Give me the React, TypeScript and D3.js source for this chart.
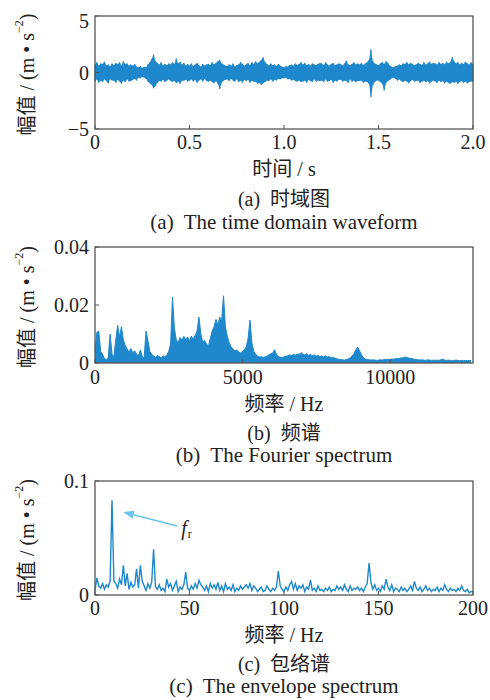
import React from 'react';
import * as d3 from 'd3';

// ---- (a) time-domain waveform: upper / lower envelope per 0.01 s (m·s^-2)
const timeStep = 0.01;
const timeUpper = [
  0.7, 0.9, 0.6, 0.8, 0.75, 0.95, 0.6, 0.7, 0.55, 0.8,
  0.65, 0.85, 0.7, 0.9, 0.6, 1.0, 0.75, 0.8, 0.6, 0.7,
  0.6, 0.75, 0.5, 0.45, 0.55, 0.4, 0.5, 0.45, 0.7, 0.9,
  1.2, 1.6, 1.0, 0.85, 0.7, 0.9, 0.6, 0.75, 0.65, 0.8,
  0.7, 0.9, 0.75, 1.25, 0.8, 0.95, 0.7, 0.85, 0.6, 0.75,
  0.6, 0.8, 0.55, 0.7, 0.85, 0.65, 0.5, 0.75, 0.6, 0.7,
  0.75, 0.65, 0.9, 0.7, 0.85, 1.0, 1.1, 0.8, 0.7, 0.6,
  0.55, 0.7, 0.6, 0.8, 0.5, 0.65, 0.7, 0.9, 0.75, 0.6,
  0.7, 0.85, 0.65, 0.9, 0.75, 1.0, 0.8, 0.95, 1.1, 1.35,
  0.9, 0.75, 0.6, 0.8, 0.65, 0.7, 0.55, 0.75, 0.6, 0.5,
  0.45, 0.55, 0.5, 0.65, 0.7, 0.6, 0.8, 0.65, 0.75, 0.9,
  0.7, 0.85, 0.65, 0.75, 0.6, 0.8, 0.7, 0.65, 0.75, 0.85,
  0.8, 0.65, 0.9, 0.7, 0.6, 0.75, 0.85, 0.65, 0.7, 0.8,
  0.75, 0.6, 0.8, 1.05, 0.7, 0.65, 0.75, 0.9, 0.7, 0.8,
  0.7, 0.85, 0.65, 0.8, 0.9, 1.1, 2.05, 1.0, 0.8, 0.7,
  0.65, 0.8, 0.9, 0.75, 1.0, 0.85, 0.6, 0.5, 0.45, 0.55,
  0.6, 0.7, 0.65, 0.8, 0.75, 0.9, 0.7, 0.85, 0.75, 0.65,
  0.7, 0.85, 0.75, 0.65, 0.9, 0.7, 0.8, 0.95, 0.75, 0.85,
  0.8, 0.7, 0.9, 0.75, 0.85, 0.7, 0.95, 0.8, 0.9, 1.35,
  1.0, 0.8, 0.9, 0.7, 0.85, 0.75, 0.95, 0.8, 0.7, 0.9,
  0.75,
];
const timeLower = [
  -0.8, -0.6, -0.9, -0.7, -0.85, -0.6, -0.75, -0.95, -0.6, -0.7,
  -0.7, -0.9, -0.65, -0.8, -1.0, -0.7, -0.85, -0.6, -0.8, -0.75,
  -0.65, -0.55, -0.7, -0.45, -0.5, -0.4, -0.45, -0.55, -0.8, -0.95,
  -1.1, -1.4, -1.2, -0.9, -0.75, -0.8, -0.65, -0.85, -0.7, -0.6,
  -0.75, -0.85, -0.7, -0.95, -0.8, -1.0, -0.75, -0.7, -0.65, -0.8,
  -0.7, -0.6, -0.8, -0.65, -0.9, -0.7, -0.6, -0.8, -0.55, -0.75,
  -0.8, -0.7, -0.85, -0.95, -0.75, -1.0, -1.45, -0.9, -0.7, -0.65,
  -0.6, -0.75, -0.55, -0.7, -0.8, -0.6, -0.85, -0.7, -0.9, -0.65,
  -0.75, -0.65, -0.9, -0.7, -0.85, -0.8, -1.0, -0.9, -1.1, -0.95,
  -0.85, -0.7, -0.75, -0.6, -0.8, -0.65, -0.7, -0.55, -0.6, -0.5,
  -0.5, -0.45, -0.6, -0.55, -0.7, -0.65, -0.75, -0.8, -0.7, -0.85,
  -0.8, -0.7, -0.9, -0.65, -0.75, -0.85, -0.6, -0.8, -0.7, -0.75,
  -0.7, -0.85, -0.6, -0.8, -0.75, -0.65, -0.9, -0.7, -0.8, -0.65,
  -0.65, -0.8, -0.7, -0.75, -0.9, -0.6, -0.8, -0.7, -0.85, -0.75,
  -0.75, -0.7, -0.9, -0.8, -0.85, -1.0, -2.2, -1.1, -0.85, -0.7,
  -0.7, -0.85, -1.0, -1.6, -0.9, -0.75, -0.65, -0.5, -0.45, -0.55,
  -0.7, -0.6, -0.75, -0.85, -0.7, -0.8, -0.95, -0.75, -0.65, -0.8,
  -0.75, -0.7, -0.9, -0.8, -0.7, -0.85, -0.75, -0.95, -0.8, -0.7,
  -0.8, -0.9, -0.7, -0.85, -0.75, -0.95, -0.8, -0.9, -1.0, -0.85,
  -0.9, -0.8, -1.0, -0.85, -0.75, -0.9, -0.8, -0.95, -0.85, -0.8,
  -0.8,
];

// ---- (b) Fourier spectrum: amplitude per 64 Hz bin (m·s^-2)
const fftStep = 64;
const fftAmp = [
  0.0040, 0.0106, 0.0110, 0.0040, 0.0030, 0.0015, 0.0012, 0.0018, 0.0100, 0.0030,
  0.0022, 0.0080, 0.0130, 0.0090, 0.0125, 0.0080, 0.0060, 0.0048, 0.0038, 0.0050,
  0.0035, 0.0042, 0.0030, 0.0026, 0.0045, 0.0022, 0.0018, 0.0110, 0.0078, 0.0040,
  0.0030, 0.0024, 0.0020, 0.0026, 0.0022, 0.0018, 0.0025, 0.0021, 0.0028, 0.0040,
  0.0065, 0.0228, 0.0120, 0.0080, 0.0070, 0.0088, 0.0078, 0.0092, 0.0080, 0.0090,
  0.0076, 0.0093, 0.0082, 0.0095, 0.0110, 0.0158, 0.0100, 0.0072, 0.0078, 0.0066,
  0.0058, 0.0085, 0.0110, 0.0125, 0.0150, 0.0132, 0.0158, 0.0145, 0.0232, 0.0125,
  0.0092, 0.0070, 0.0055, 0.0048, 0.0042, 0.0045, 0.0038, 0.0035, 0.0040, 0.0045,
  0.0055, 0.0085, 0.0148, 0.0070, 0.0040, 0.0030, 0.0024, 0.0020, 0.0022, 0.0019,
  0.0021, 0.0024, 0.0028, 0.0032, 0.0034, 0.0046, 0.0030, 0.0022, 0.0020, 0.0019,
  0.0021, 0.0023, 0.0025, 0.0028, 0.0026, 0.0030, 0.0027, 0.0031, 0.0029, 0.0036,
  0.0030, 0.0028, 0.0032, 0.0027, 0.0029, 0.0025, 0.0028, 0.0024, 0.0026, 0.0022,
  0.0024, 0.0021, 0.0025, 0.0020, 0.0022, 0.0018, 0.0020, 0.0016, 0.0014, 0.0013,
  0.0012, 0.0011, 0.0010, 0.0012, 0.0014, 0.0018, 0.0024, 0.0032, 0.0045, 0.0055,
  0.0042, 0.0028, 0.0018, 0.0014, 0.0012, 0.0011, 0.0010, 0.0011, 0.0010, 0.0009,
  0.0010, 0.0011, 0.0010, 0.0012, 0.0011, 0.0013, 0.0012, 0.0014, 0.0013, 0.0015,
  0.0016, 0.0015, 0.0018, 0.0017, 0.0021, 0.0019, 0.0017, 0.0016, 0.0015, 0.0013,
  0.0012, 0.0011, 0.0010, 0.0011, 0.0010, 0.0009, 0.0011, 0.0010, 0.0009, 0.0010,
  0.0009, 0.0010, 0.0009, 0.0011, 0.0013, 0.0010, 0.0009, 0.0010, 0.0009, 0.0008,
  0.0009, 0.0010, 0.0009, 0.0008, 0.0009, 0.0008, 0.0009, 0.0008, 0.0009, 0.0008,
];

// ---- (c) envelope spectrum: amplitude per 1 Hz (m·s^-2)
const envStep = 1;
const envAmp = [
  0.004, 0.015, 0.008, 0.006, 0.010, 0.005, 0.009, 0.007, 0.012, 0.083,
  0.012, 0.010, 0.006, 0.014, 0.009, 0.026, 0.008, 0.019, 0.005, 0.011,
  0.007, 0.009, 0.023, 0.006, 0.026, 0.012, 0.008, 0.004, 0.010, 0.006,
  0.011, 0.040, 0.007, 0.005, 0.009, 0.004, 0.006, 0.003, 0.014, 0.007,
  0.010, 0.004, 0.008, 0.012, 0.003, 0.007, 0.005, 0.009, 0.020, 0.006,
  0.004, 0.008, 0.005, 0.010, 0.006, 0.013, 0.009, 0.007, 0.004, 0.008,
  0.003, 0.010, 0.006, 0.009, 0.005, 0.011, 0.004, 0.008, 0.003, 0.010,
  0.005, 0.007, 0.004, 0.009, 0.003, 0.006, 0.004, 0.008, 0.005, 0.007,
  0.009, 0.006, 0.010, 0.004, 0.008, 0.006, 0.003, 0.005, 0.007, 0.003,
  0.004, 0.008, 0.005, 0.003, 0.006, 0.004, 0.007, 0.021, 0.008, 0.005,
  0.003, 0.007, 0.004, 0.009, 0.012, 0.005, 0.010, 0.004, 0.008, 0.006,
  0.009, 0.003, 0.007, 0.005, 0.013, 0.004, 0.006, 0.003, 0.008, 0.004,
  0.005, 0.003, 0.006, 0.004, 0.007, 0.003, 0.005, 0.004, 0.008, 0.005,
  0.007, 0.004, 0.009, 0.005, 0.003, 0.008, 0.004, 0.006, 0.005, 0.007,
  0.004, 0.006, 0.003, 0.007, 0.010, 0.028, 0.011, 0.005, 0.009, 0.004,
  0.006, 0.003, 0.008, 0.005, 0.014, 0.007, 0.004, 0.009, 0.003, 0.006,
  0.005, 0.003, 0.007, 0.004, 0.006, 0.003, 0.005, 0.008, 0.004, 0.012,
  0.006, 0.004, 0.007, 0.003, 0.005, 0.008, 0.004, 0.006, 0.003, 0.005,
  0.004, 0.007, 0.003, 0.006, 0.004, 0.009, 0.005, 0.003, 0.006, 0.004,
  0.005, 0.003, 0.006, 0.004, 0.008, 0.004, 0.003, 0.005, 0.002, 0.003,
  0.003,
];

// ---- tick values and labels
const timeXTicks = [0, 0.5, 1.0, 1.5, 2.0];
const timeXLabels = ['0', '0.5', '1.0', '1.5', '2.0'];
const timeYTicks = [5, 0, -5];
const timeYLabels = ['5', '0', '\u22125'];

const fftXTicks = [0, 5000, 10000];
const fftXLabels = ['0', '5000', '10000'];
const fftYTicks = [0.04, 0.02, 0];
const fftYLabels = ['0.04', '0.02', '0'];

const envXTicks = [0, 50, 100, 150, 200];
const envXLabels = ['0', '50', '100', '150', '200'];
const envYTicks = [0.1, 0];
const envYLabels = ['0.1', '0'];

// rotation-frequency marker on the envelope spectrum (Hz, amplitude)
const frArrowTip = [14.8, 0.0728];
const frArrowTail = [43.4, 0.0605];
const frLabelAt = [45.6, 0.0525];

const FONT = "'Liberation Serif', 'Times New Roman', 'Noto Sans CJK SC', serif";
const BLUE = '#1f88cc';
const TEXT = '#222';
const FRAME = '#555';
const LEFT = 95;
const RIGHT = 473;

type PanelProps = {
  top: number;
  bottom: number;
  x: d3.ScaleLinear<number, number>;
  y: d3.ScaleLinear<number, number>;
  xTicks: number[];
  xLabels: string[];
  yTicks: number[];
  yLabels: string[];
  tickBase: number;
  xTitle: string;
  titleBase: number;
  capZh: string;
  zhBase: number;
  capEn: string;
  enBase: number;
  children?: React.ReactNode;
};

function Panel(p: PanelProps) {
  const cx = (LEFT + RIGHT) / 2;
  const cy = (p.top + p.bottom) / 2;
  return (
    <g>
      {p.children}
      <rect x={LEFT} y={p.top} width={RIGHT - LEFT} height={p.bottom - p.top}
        fill="none" stroke={FRAME} strokeWidth={1.3} />
      {p.xTicks.map((t, i) => (
        <g key={'xt' + i}>
          <line x1={p.x(t)} x2={p.x(t)} y1={p.bottom} y2={p.bottom - 4} stroke={FRAME} strokeWidth={1} />
          <text x={p.x(t)} y={p.tickBase} textAnchor="middle" fontSize={20} fill={TEXT}>{p.xLabels[i]}</text>
        </g>
      ))}
      {p.yTicks.map((t, i) => (
        <g key={'yt' + i}>
          <line x1={LEFT} x2={LEFT + 4} y1={p.y(t)} y2={p.y(t)} stroke={FRAME} strokeWidth={1} />
          <text x={89} y={Math.max(p.y(t), 21)} textAnchor="end" dominantBaseline="central"
            fontSize={20} fill={TEXT}>{p.yLabels[i]}</text>
        </g>
      ))}
      <text transform={`translate(27, ${cy + 2}) rotate(-90)`} textAnchor="middle"
        dominantBaseline="central" fontSize={20} fill={TEXT}>
        幅值 / (m • s<tspan dy={-8} fontSize={12}>−2</tspan><tspan dy={8}>)</tspan>
      </text>
      <text x={cx} y={p.titleBase} textAnchor="middle" fontSize={20} fill={TEXT}>{p.xTitle}</text>
      <text x={cx} y={p.zhBase} textAnchor="middle" fontSize={20} fill={TEXT} xmlSpace="preserve">{p.capZh}</text>
      <text x={cx} y={p.enBase} textAnchor="middle" fontSize={21} fill={TEXT} xmlSpace="preserve">{p.capEn}</text>
    </g>
  );
}

export default function App() {
  // (a)
  const xA = d3.scaleLinear().domain([0, 2]).range([LEFT, RIGHT]);
  const yA = d3.scaleLinear().domain([-5, 5]).range([129, 16]);
  const bandA = d3.area<number>()
    .x((_, i) => xA(i * timeStep))
    .y0((_, i) => yA(timeLower[i]))
    .y1((d) => yA(d))(timeUpper) as string;
  const strokesA = timeUpper
    .map((u, i) => `M${xA(i * timeStep)},${yA(u)}L${xA(i * timeStep)},${yA(timeLower[i])}`)
    .join('');

  // (b)
  const xB = d3.scaleLinear().domain([0, 12800]).range([LEFT, RIGHT]);
  const yB = d3.scaleLinear().domain([0, 0.04]).range([363, 247]);
  const areaB = d3.area<number>()
    .x((_, i) => xB(i * fftStep))
    .y0(yB(0))
    .y1((d) => yB(d))(fftAmp) as string;
  const lineB = d3.line<number>()
    .x((_, i) => xB(i * fftStep))
    .y((d) => yB(d))(fftAmp) as string;

  // (c)
  const xC = d3.scaleLinear().domain([0, 200]).range([LEFT, RIGHT]);
  const yC = d3.scaleLinear().domain([0, 0.1]).range([595, 481]);
  const lineC = d3.line<number>()
    .x((_, i) => xC(i * envStep))
    .y((d) => yC(d))(envAmp) as string;

  const tipX = xC(frArrowTip[0]);
  const tipY = yC(frArrowTip[1]);
  const tailX = xC(frArrowTail[0]);
  const tailY = yC(frArrowTail[1]);
  const len = Math.hypot(tailX - tipX, tailY - tipY);
  const ux = (tailX - tipX) / len;
  const uy = (tailY - tipY) / len;
  const headL = 11;
  const headW = 4.2;
  const bx = tipX + ux * headL;
  const by = tipY + uy * headL;
  const head = `${tipX},${tipY} ${bx - uy * headW},${by + ux * headW} ${bx + uy * headW},${by - ux * headW}`;

  return (
    <svg width={490} height={700} viewBox="0 0 490 700"
      style={{ position: 'absolute', left: 0, top: 0, background: '#fff' }}
      fontFamily={FONT}>
      <rect width={490} height={700} fill="#fff" />

      <Panel top={16} bottom={129} x={xA} y={yA}
        xTicks={timeXTicks} xLabels={timeXLabels} yTicks={timeYTicks} yLabels={timeYLabels}
        tickBase={149} xTitle="时间 / s" titleBase={176}
        capZh="(a)  时域图" zhBase={206} capEn="(a)  The time domain waveform" enBase={229}>
        <path d={bandA} fill={BLUE} />
        <path d={strokesA} stroke={BLUE} strokeWidth={1.2} fill="none" />
      </Panel>

      <Panel top={247} bottom={363} x={xB} y={yB}
        xTicks={fftXTicks} xLabels={fftXLabels} yTicks={fftYTicks} yLabels={fftYLabels}
        tickBase={384} xTitle="频率 / Hz" titleBase={411}
        capZh="(b)  频谱" zhBase={440} capEn="(b)  The Fourier spectrum" enBase={462}>
        <path d={areaB} fill={BLUE} />
        <path d={lineB} fill="none" stroke={BLUE} strokeWidth={1} strokeLinejoin="miter" />
      </Panel>

      <Panel top={481} bottom={595} x={xC} y={yC}
        xTicks={envXTicks} xLabels={envXLabels} yTicks={envYTicks} yLabels={envYLabels}
        tickBase={615} xTitle="频率 / Hz" titleBase={642}
        capZh="(c)  包络谱" zhBase={671} capEn="(c)  The envelope spectrum" enBase={693}>
        <path d={lineC} fill="none" stroke={BLUE} strokeWidth={1.4} strokeLinejoin="miter" />
        <line x1={tailX} y1={tailY} x2={bx} y2={by} stroke="#6ec3ec" strokeWidth={1.6} />
        <polygon points={head} fill="#6ec3ec" />
        <text x={xC(frLabelAt[0])} y={yC(frLabelAt[1])} fontSize={20} fill={TEXT}>
          <tspan fontStyle="italic">f</tspan>
          <tspan fontSize={12} dy={3} dx={1}>r</tspan>
        </text>
      </Panel>
    </svg>
  );
}
